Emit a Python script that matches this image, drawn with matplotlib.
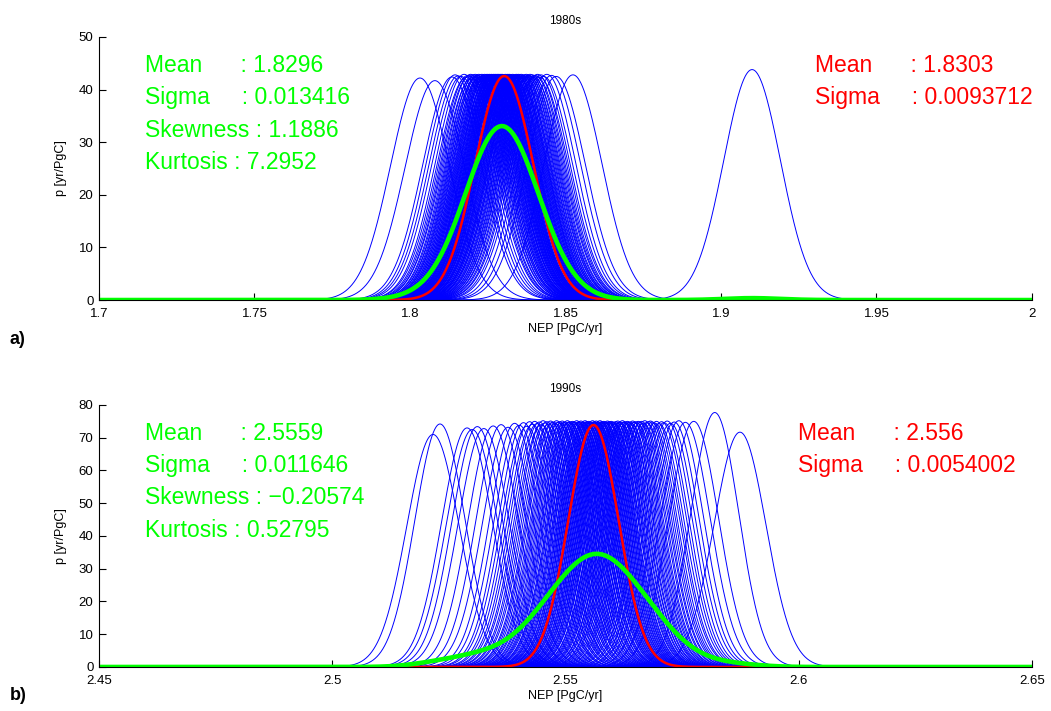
import numpy as np
import matplotlib.pyplot as plt

plt.rcParams['font.family'] = ['Liberation Sans', 'DejaVu Sans']

# ---- 1980s: per-run gaussians (means and peak heights)
means_80 = [1.8032, 1.8080, 1.8135, 1.8145, 1.8155,
            1.8164, 1.8174, 1.8181, 1.8186, 1.8191, 1.8195, 1.8199, 1.8203, 1.8207, 1.8210,
            1.8213, 1.8216, 1.8219, 1.8221, 1.8224, 1.8226, 1.8229, 1.8231, 1.8233, 1.8236,
            1.8238, 1.8240, 1.8242, 1.8244, 1.8246, 1.8248, 1.8250, 1.8252, 1.8253, 1.8255,
            1.8257, 1.8259, 1.8261, 1.8262, 1.8264, 1.8265, 1.8267, 1.8269, 1.8270, 1.8272,
            1.8273, 1.8275, 1.8276, 1.8278, 1.8279, 1.8281, 1.8282, 1.8284, 1.8285, 1.8286,
            1.8288, 1.8289, 1.8290, 1.8292, 1.8293, 1.8294,
            1.8296, 1.8297, 1.8300, 1.8301, 1.8303, 1.8304, 1.8306, 1.8307, 1.8309, 1.8310,
            1.8312, 1.8314, 1.8315, 1.8317, 1.8318, 1.8320, 1.8321, 1.8323, 1.8325, 1.8327,
            1.8329, 1.8330, 1.8332, 1.8334, 1.8336, 1.8338, 1.8340, 1.8342, 1.8344, 1.8346,
            1.8347, 1.8349, 1.8351, 1.8354, 1.8356, 1.8358, 1.8360, 1.8363, 1.8366, 1.8368,
            1.8371, 1.8374, 1.8377, 1.8380, 1.8383, 1.8386, 1.8389, 1.8393, 1.8397, 1.8401,
            1.8405, 1.8410, 1.8415, 1.8421, 1.8429, 1.8440,
            1.8455, 1.8470, 1.8524, 1.9100]
peaks_80 = [42.2, 41.7, 42.4, 42.8, 42.6,
            42.5, 42.9, 42.3, 42.7, 42.6, 42.9, 42.2, 42.8, 42.5, 42.9,
            42.4, 42.7, 42.6, 42.9, 42.3, 42.8, 42.5, 42.9, 42.6, 42.7,
            42.4, 42.9, 42.5, 42.8, 42.6, 42.9, 42.3, 42.7, 42.6, 42.9,
            42.4, 42.8, 42.5, 42.9, 42.6, 42.7, 42.4, 42.9, 42.5, 42.8,
            42.6, 42.9, 42.3, 42.7, 42.6, 42.9, 42.4, 42.8, 42.5, 42.9,
            42.6, 42.7, 42.4, 42.9, 42.5, 42.8,
            42.6, 42.9, 42.3, 42.7, 42.6, 42.8, 42.5, 42.9, 42.4, 42.7,
            42.6, 42.9, 42.5, 42.8, 42.3, 42.9, 42.6, 42.7, 42.4, 42.8,
            42.5, 42.9, 42.6, 42.7, 42.3, 42.8, 42.5, 42.9, 42.6, 42.7,
            42.4, 42.9, 42.5, 42.8, 42.6, 42.9, 42.3, 42.7, 42.6, 42.8,
            42.5, 42.9, 42.4, 42.7, 42.6, 42.9, 42.5, 42.8, 42.3, 42.7,
            42.6, 42.9, 42.4, 42.8, 42.5, 42.9,
            42.7, 42.5, 42.8, 43.8]

# ---- 1990s
means_90 = [2.5216, 2.5231, 2.5289, 2.5300, 2.5311, 2.5325, 2.5345, 2.5362,
            2.5377, 2.5391, 2.5401, 2.5410, 2.5417, 2.5423, 2.5429, 2.5434, 2.5439, 2.5444,
            2.5448, 2.5452, 2.5456, 2.5460, 2.5464, 2.5468, 2.5471, 2.5474, 2.5478, 2.5481,
            2.5484, 2.5487, 2.5490, 2.5493, 2.5496, 2.5499, 2.5502, 2.5504, 2.5507, 2.5509,
            2.5512, 2.5515, 2.5517, 2.5519, 2.5522, 2.5524, 2.5527, 2.5529, 2.5531, 2.5533,
            2.5536, 2.5538, 2.5540, 2.5542, 2.5544, 2.5546, 2.5548, 2.5550, 2.5552, 2.5554,
            2.5556, 2.5558, 2.5560, 2.5562, 2.5564, 2.5566,
            2.5568, 2.5570, 2.5572, 2.5574, 2.5576, 2.5578, 2.5580, 2.5582, 2.5584, 2.5586,
            2.5588, 2.5590, 2.5592, 2.5594, 2.5596, 2.5598, 2.5601, 2.5603, 2.5605, 2.5608,
            2.5610, 2.5612, 2.5615, 2.5617, 2.5620, 2.5622, 2.5625, 2.5627, 2.5630, 2.5633,
            2.5635, 2.5638, 2.5641, 2.5644, 2.5647, 2.5650, 2.5653, 2.5656, 2.5660, 2.5663,
            2.5667, 2.5670, 2.5674, 2.5678, 2.5682, 2.5686, 2.5691, 2.5695, 2.5700, 2.5706,
            2.5711, 2.5718, 2.5725, 2.5733, 2.5743, 2.5757,
            2.5775, 2.5820, 2.5874]
peaks_90 = [71.0, 74.2, 73.0, 72.5, 73.4, 72.8, 73.6, 74.0,
            73.2, 74.4, 73.8, 74.6, 73.5, 74.9, 74.1, 75.0, 74.3, 74.8,
            74.0, 75.2, 74.5, 74.9, 74.2, 75.1, 74.6, 74.8, 74.3, 75.2,
            74.7, 74.9, 74.4, 75.1, 74.6, 74.8, 74.2, 75.2, 74.7, 74.9,
            74.4, 75.0, 74.6, 74.8, 74.3, 75.2, 74.7, 74.9, 74.5, 75.1,
            74.6, 74.8, 74.3, 75.2, 74.7, 74.9, 74.4, 75.0, 74.6, 74.8,
            74.3, 75.2, 74.7, 74.9, 74.5, 75.1,
            74.6, 74.8, 74.4, 75.2, 74.7, 74.9, 74.5, 75.0, 74.6, 74.8,
            74.3, 75.1, 74.7, 74.9, 74.4, 75.0, 74.6, 74.8, 74.2, 74.9,
            74.5, 75.1, 74.6, 74.8, 74.3, 75.2, 74.7, 74.9, 74.4, 75.0,
            74.6, 74.8, 74.3, 75.1, 74.7, 74.9, 74.5, 75.0, 74.6, 75.0,
            74.4, 75.2, 74.6, 74.9, 75.1, 74.8, 74.5, 75.0, 74.3, 74.9,
            74.6, 75.1, 74.4, 74.8, 75.2, 74.7,
            75.0, 77.7, 71.7]

# ensemble summary (red) and stats text
red_80 = (1.8303, 0.0093712)
red_90 = (2.556, 0.0054002)
stats_80 = ['1.8296', '0.013416', '1.1886', '7.2952']
stats_90 = ['2.5559', '0.011646', '\u22120.20574', '0.52795']


def gauss(x, mu, sig):
    return np.exp(-0.5 * ((x - mu) / sig) ** 2) / (sig * np.sqrt(2 * np.pi))


def panel(ax, means, peaks, red, stats, xlim, ylim, yticks, xticks, xlabels,
          title, green_x, red_x):
    x = np.linspace(xlim[0], xlim[1], 3000)
    sigs = 1.0 / (np.array(peaks) * np.sqrt(2 * np.pi))
    curves = np.array([gauss(x, m, s) for m, s in zip(means, sigs)])
    for c in curves:
        ax.plot(x, c, color='#0000ff', lw=0.7)
    ax.plot(x, gauss(x, red[0], red[1]), color='#ff0000', lw=1.8)
    # ensemble density = average of the individual runs
    ax.plot(x, curves.mean(axis=0), color='#00ff00', lw=3.3)

    ax.set_xlim(xlim)
    ax.set_ylim(ylim)
    ax.set_xticks(xticks)
    ax.set_xticklabels(xlabels)
    ax.set_yticks(yticks)
    for s in ['top', 'right']:
        ax.spines[s].set_visible(False)
    ax.tick_params(direction='in', length=5, labelsize=9.5)
    ax.tick_params(axis='x', pad=6)
    ax.tick_params(axis='y', pad=4)
    ax.set_xlabel('NEP [PgC/yr]', fontsize=9, labelpad=2)
    ax.set_ylabel('p [yr/PgC]', fontsize=9, labelpad=8)
    ax.set_title(title, fontsize=8.5, pad=9)

    glines = ['Mean      : ' + stats[0], 'Sigma     : ' + stats[1],
              'Skewness : ' + stats[2], 'Kurtosis : ' + stats[3]]
    for i, t in enumerate(glines):
        ax.text(green_x, 0.893 - i * 0.1235, t, transform=ax.transAxes,
                color='#00ff00', fontsize=16.5, va='center')
    rlines = ['Mean      : %g' % red[0], 'Sigma     : %g' % red[1]]
    for i, t in enumerate(rlines):
        ax.text(red_x, 0.893 - i * 0.1235, t, transform=ax.transAxes,
                color='#ff0000', fontsize=16.5, va='center')


fig = plt.figure(figsize=(10.51, 7.11), dpi=100)
ax1 = fig.add_axes([0.0942, 0.578, 0.8877, 0.370])
ax2 = fig.add_axes([0.0942, 0.0619, 0.8877, 0.3685])

panel(ax1, means_80, peaks_80, red_80, stats_80, (1.7, 2.0), (0, 50),
      np.arange(0, 51, 10), [1.7, 1.75, 1.8, 1.85, 1.9, 1.95, 2.0],
      ['1.7', '1.75', '1.8', '1.85', '1.9', '1.95', '2'],
      '1980s', 0.049, 0.767)
panel(ax2, means_90, peaks_90, red_90, stats_90, (2.45, 2.65), (0, 80),
      np.arange(0, 81, 10), [2.45, 2.5, 2.55, 2.6, 2.65],
      ['2.45', '2.5', '2.55', '2.6', '2.65'],
      '1990s', 0.049, 0.749)

fig.text(0.009, 1 - 340 / 711, 'a)', fontsize=13, fontweight='bold', va='center')
fig.text(0.009, 1 - 695 / 711, 'b)', fontsize=13, fontweight='bold', va='center')

fig.savefig('out.png', dpi=100)
